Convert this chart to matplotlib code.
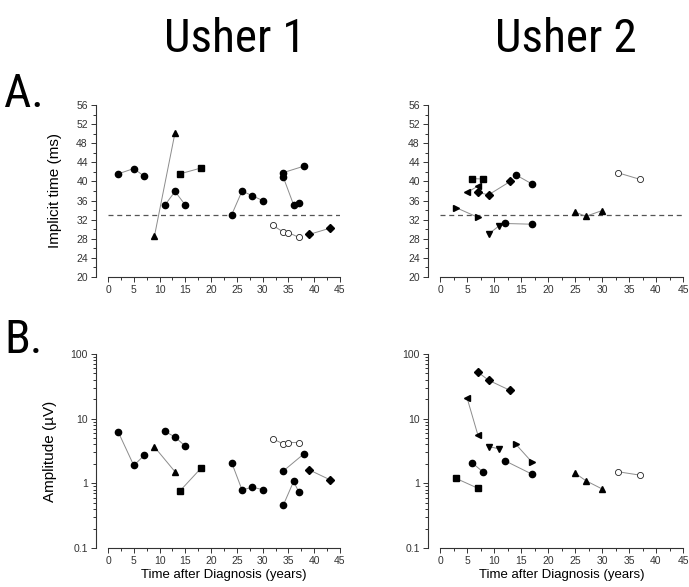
import numpy as np
import matplotlib
matplotlib.use("Agg")
import matplotlib.pyplot as plt
from matplotlib import font_manager
from matplotlib.ticker import MultipleLocator, LogLocator, FixedLocator, NullFormatter

plt.rcParams['font.family'] = ['Liberation Sans', 'DejaVu Sans']

# ---- Usher 1, implicit time (ms)
u1_time_x = [[2, 5, 7], [9, 13], [11, 13, 15], [14, 18], [24, 26, 28, 30],
             [34, 38], [34, 36, 37], [32, 34, 35, 37], [39, 43]]
u1_time_y = [[41.6, 42.7, 41.1], [28.5, 50.2], [35.0, 37.9, 35.05], [41.6, 42.8],
             [33.05, 38.0, 37.0, 36.0], [41.85, 43.2], [40.9, 35.1, 35.5],
             [30.8, 29.4, 29.3, 28.3], [28.9, 30.2]]
u1_time_mk = ['o', '^', 'o', 's', 'o', 'o', 'o', 'open', 'D']

# ---- Usher 1, amplitude (uV)
u1_amp_x = [[2, 5, 7], [9, 13], [11, 13, 15], [14, 18], [24, 26, 28, 30],
            [34, 38], [34, 36, 37], [32, 34, 35, 37], [39, 43]]
u1_amp_y = [[6.2, 1.89, 2.7], [3.66, 1.51], [6.4, 5.2, 3.75], [0.77, 1.7],
            [2.08, 0.79, 0.87, 0.80], [1.55, 2.86], [0.46, 1.07, 0.74],
            [4.86, 4.07, 4.27, 4.27], [1.62, 1.14]]
u1_amp_mk = ['o', '^', 'o', 's', 'o', 'o', 'o', 'open', 'D']

# ---- Usher 2, implicit time (ms)
u2_time_x = [[6, 8], [5, 7], [7, 9, 13], [14, 17], [3, 7], [9, 11], [12, 17],
             [25, 27, 30], [33, 37]]
u2_time_y = [[40.6, 40.5], [37.7, 39.0], [37.7, 37.2, 40.0], [41.4, 39.5],
             [34.5, 32.5], [29.0, 30.75], [31.2, 31.05], [33.6, 32.7, 33.9],
             [41.8, 40.45]]
u2_time_mk = ['s', '<', 'D', 'o', '>', 'v', 'o', '^', 'open']

# ---- Usher 2, amplitude (uV)
u2_amp_x = [[7, 9, 13], [5, 7], [9, 11], [14, 17], [6, 8], [12, 17], [3, 7],
            [25, 27, 30], [33, 37]]
u2_amp_y = [[52.6, 39.3, 27.3], [21.1, 5.64], [3.70, 3.41], [4.06, 2.14],
            [2.06, 1.49], [2.24, 1.39], [1.19, 0.84], [1.44, 1.10, 0.82],
            [1.51, 1.34]]
u2_amp_mk = ['D', '<', 'v', '>', 'o', 'o', 's', '^', 'open']

cutoff = 33

# narrow face for the big headings if one is installed
installed = {f.name for f in font_manager.fontManager.ttflist}
narrow = None
for cand in ['Liberation Sans Narrow', 'Arial Narrow', 'Roboto Condensed',
             'Open Sans Condensed', 'DejaVu Sans Condensed']:
    if cand in installed:
        narrow = cand
        break
if narrow:
    head_font, head_size = [narrow, 'DejaVu Sans'], 34
else:
    head_font, head_size = ['Liberation Sans', 'DejaVu Sans'], 28

W, H = 689, 587
fig = plt.figure(figsize=(W / 100, H / 100), dpi=100)


def box(x0, x1, ytop, ybot):
    return [x0 / W, 1 - ybot / H, (x1 - x0) / W, (ybot - ytop) / H]


def draw(ax, xs, ys, mks):
    for x, y, m in zip(xs, ys, mks):
        ax.plot(x, y, '-', color='#8c8c8c', lw=0.7, zorder=2)
        if m == 'open':
            ax.plot(x, y, 'o', ms=4.4, mfc='white', mec='#222222', mew=0.6, ls='none', zorder=3)
        else:
            ms = 3.8 if m == 'D' else 4.5
            ax.plot(x, y, m, ms=ms, color='black', ls='none', zorder=3)


def style(ax):
    for s in ['top', 'right']:
        ax.spines[s].set_visible(False)
    ax.spines['left'].set_position(('outward', 8.5))
    for s in ['left', 'bottom']:
        ax.spines[s].set_linewidth(0.8)
        ax.spines[s].set_color('#333333')
    ax.set_xlim(0, 45)
    ax.xaxis.set_major_locator(MultipleLocator(5))
    ax.xaxis.set_minor_locator(MultipleLocator(2.5))
    ax.tick_params(which='both', direction='out', labelsize=7.5, colors='#333333',
                   labelcolor='#333333', width=0.7, pad=2.5)
    ax.tick_params(which='major', length=3.5)
    ax.tick_params(which='minor', length=2)
    ax.patch.set_visible(False)


axA1 = fig.add_axes(box(108, 340, 105, 277))
axA2 = fig.add_axes(box(440, 683, 105, 277))
axB1 = fig.add_axes(box(108, 340, 354, 548))
axB2 = fig.add_axes(box(440, 683, 354, 548))

for ax, xs, ys, mks in [(axA1, u1_time_x, u1_time_y, u1_time_mk),
                        (axA2, u2_time_x, u2_time_y, u2_time_mk)]:
    draw(ax, xs, ys, mks)
    ax.axhline(cutoff, color='#555555', lw=0.9, ls=(0, (4, 3)), zorder=1)
    style(ax)
    ax.set_ylim(20, 56)
    ax.yaxis.set_major_locator(MultipleLocator(4))
    ax.yaxis.set_minor_locator(MultipleLocator(2))

for ax, xs, ys, mks in [(axB1, u1_amp_x, u1_amp_y, u1_amp_mk),
                        (axB2, u2_amp_x, u2_amp_y, u2_amp_mk)]:
    draw(ax, xs, ys, mks)
    style(ax)
    ax.set_yscale('log')
    ax.set_ylim(0.1, 100)
    ax.yaxis.set_major_locator(FixedLocator([0.1, 1, 10, 100]))
    ax.yaxis.set_minor_locator(LogLocator(base=10, subs=np.arange(2, 10)))
    ax.yaxis.set_minor_formatter(NullFormatter())
    ax.set_yticklabels(['0.1', '1', '10', '100'])

axA1.set_ylabel('Implicit time (ms)', fontsize=11, labelpad=10)
axB1.set_ylabel('Amplitude (\u00b5V)', fontsize=11, labelpad=10)
axB1.set_xlabel('Time after Diagnosis (years)', fontsize=9.5, labelpad=2)
axB2.set_xlabel('Time after Diagnosis (years)', fontsize=9.5, labelpad=2)

fig.text(235 / W, 1 - 52 / H, 'Usher 1', ha='center', va='baseline',
         fontsize=head_size, family=head_font)
fig.text(566 / W, 1 - 52 / H, 'Usher 2', ha='center', va='baseline',
         fontsize=head_size, family=head_font)
fig.text(4 / W, 1 - 107 / H, 'A.', ha='left', va='baseline',
         fontsize=head_size, family=head_font)
fig.text(4 / W, 1 - 353 / H, 'B.', ha='left', va='baseline',
         fontsize=head_size, family=head_font)

fig.savefig('out.png', dpi=100)
